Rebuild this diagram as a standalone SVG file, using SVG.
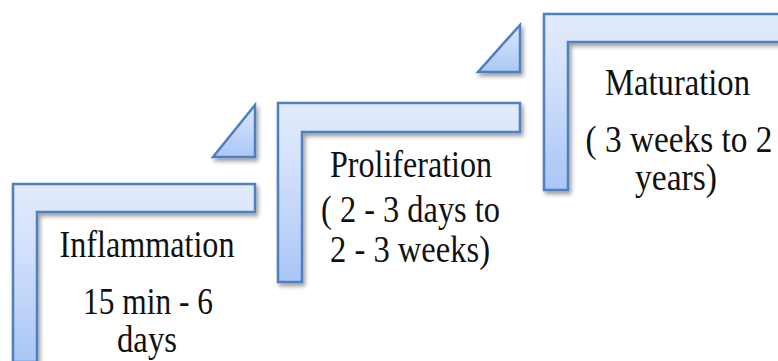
<svg xmlns="http://www.w3.org/2000/svg" width="778" height="361" viewBox="0 0 778 361">
  <defs>
    <linearGradient id="gBar" x1="0" y1="0" x2="0" y2="1">
      <stop offset="0" stop-color="#e2ebfc"/>
      <stop offset="0.35" stop-color="#d3e1fb"/>
      <stop offset="1" stop-color="#a9c6f6"/>
    </linearGradient>
    <linearGradient id="gTri" x1="0" y1="0" x2="0" y2="1">
      <stop offset="0" stop-color="#dde8fb"/>
      <stop offset="1" stop-color="#aac7f5"/>
    </linearGradient>
    <filter id="shadow" x="-10%" y="-10%" width="130%" height="130%">
      <feGaussianBlur in="SourceAlpha" stdDeviation="2"/>
      <feOffset dx="2" dy="3" result="b"/>
      <feComponentTransfer><feFuncA type="linear" slope="0.4"/></feComponentTransfer>
      <feMerge><feMergeNode/><feMergeNode in="SourceGraphic"/></feMerge>
    </filter>
  </defs>
  <style>
    .bar { fill: url(#gBar); stroke: #4f7fc0; stroke-width: 2.5; stroke-linejoin: miter; filter: url(#shadow); }
    .tri { fill: url(#gTri); stroke: #4f7fc0; stroke-width: 2.5; stroke-linejoin: miter; filter: url(#shadow); }
    .t { font-family: "Liberation Serif", "Times New Roman", serif; font-size: 37px; fill: #111111; text-anchor: middle; }
  </style>

  <g id="step-inflammation">
    <path class="bar" d="M13,184 H255 V212 H37 V362 H13 Z"/>
    <text class="t" x="147" y="257" textLength="175" lengthAdjust="spacingAndGlyphs">Inflammation</text>
    <text class="t" x="148" y="314" textLength="130" lengthAdjust="spacingAndGlyphs">15 min - 6</text>
    <text class="t" x="147" y="352" textLength="60" lengthAdjust="spacingAndGlyphs">days</text>
  </g>

  <g id="arrow-1">
    <path class="tri" d="M255,105 V157 H213 Z"/>
  </g>

  <g id="step-proliferation">
    <path class="bar" d="M278,103 H520 V132 H302 V282 H278 Z"/>
    <text class="t" x="411" y="177" textLength="162" lengthAdjust="spacingAndGlyphs">Proliferation</text>
    <text class="t" x="410.5" y="222" textLength="179" lengthAdjust="spacingAndGlyphs">( 2 - 3 days to</text>
    <text class="t" x="410" y="262" textLength="160" lengthAdjust="spacingAndGlyphs">2 - 3 weeks)</text>
  </g>

  <g id="arrow-2">
    <path class="tri" d="M520,25 V72 H478 Z"/>
  </g>

  <g id="step-maturation">
    <path class="bar" d="M544,14 H800 V42 H568 V190 H544 Z"/>
    <text class="t" x="677.5" y="95" textLength="145" lengthAdjust="spacingAndGlyphs">Maturation</text>
    <text class="t" transform="translate(679,152) scale(0.9,1)" x="0" y="0">( 3 weeks to 2</text>
    <text class="t" x="676" y="190" textLength="82" lengthAdjust="spacingAndGlyphs">years)</text>
  </g>

  <g id="connectors"></g>
</svg>
